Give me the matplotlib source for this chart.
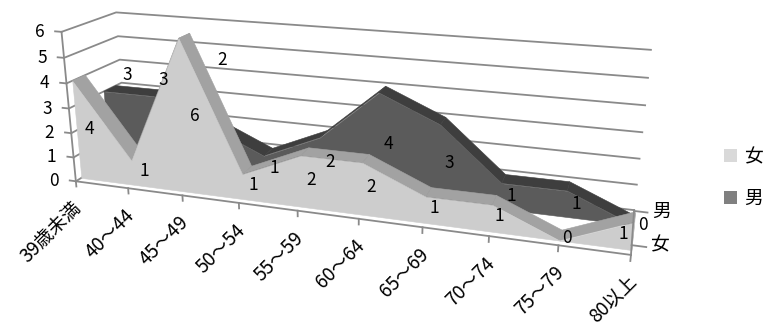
import numpy as np
import matplotlib
matplotlib.use('Agg')
import matplotlib.pyplot as plt
from mpl_toolkits.mplot3d.art3d import Poly3DCollection
from mpl_toolkits.mplot3d import proj3d
from matplotlib.patches import Patch

plt.rcParams['font.family'] = ['Noto Sans CJK JP', 'DejaVu Sans']

# ---- data ----
categories = ['39歳未満', '40～44', '45～49', '50～54', '55～59',
              '60～64', '65～69', '70～74', '75～79', '80以上']
female = [4, 1, 6, 1, 2, 2, 1, 1, 0, 1]
male = [3, 3, 2, 1, 2, 4, 3, 1, 1, 0]
series_names = ['女', '男']
value_ticks = [0, 1, 2, 3, 4, 5, 6]

# ---- layout / style ----
FS = 12.5
FS_CAT = 13.5
slab_f = (0.10, 0.33)
slab_m = (0.64, 0.88)
depth_label_y = [0.2, 0.98]
col_f = dict(face='#cdcdcd', band='#a2a2a2', end='#b4b4b4')
col_m = dict(face='#5b5b5b', band='#3e3e3e', end='#4a4a4a')
grid_col = '#8a8a8a'
# (pixel x-offset, height) for male labels that sit above the front series
male_label_override = {0: (25, 3.7), 1: (10, 3.7), 2: (17, 4.7)}
female_label_dx = {9: -10}

fig = plt.figure(figsize=(7.66, 3.29), dpi=100)
ax = fig.add_axes([-0.03, 0.235, 0.95, 0.78], projection='3d', computed_zorder=False)
ax.set_proj_type('persp', focal_length=0.67)
ax.view_init(elev=18, azim=-72)
ax.set_box_aspect((4.37, 0.8, 1.25), zoom=2.27)
ax.set_axis_off()
n = len(categories)
ax.set_xlim(0, n - 1)
ax.set_ylim(0, 1)
ax.set_zlim(0, max(value_ticks))

def line3(xs, ys, zs, z):
    ln, = ax.plot(xs, ys, zs, color=grid_col, lw=1.3, zorder=z)
    ln.set_clip_on(False)

for v in value_ticks:
    line3([0, 0, n - 1], [0, 1, 1], [v, v, v], 1)

def add_poly(polys, color, z):
    pc = Poly3DCollection(polys, facecolor=color, edgecolor=color, lw=0.4)
    pc.set_zorder(z)
    pc.set_clip_on(False)
    ax.add_collection3d(pc)

def add_series(vals, y0, y1, cols, z):
    xs = np.arange(len(vals))
    bands = []
    for i in range(len(vals) - 1):
        bands.append([(xs[i], y0, vals[i]), (xs[i + 1], y0, vals[i + 1]),
                      (xs[i + 1], y1, vals[i + 1]), (xs[i], y1, vals[i])])
    add_poly(bands, cols['band'], z)
    last = len(vals) - 1
    add_poly([[(xs[last], y0, 0), (xs[last], y0, vals[last]),
               (xs[last], y1, vals[last]), (xs[last], y1, 0)]], cols['end'], z + 0.1)
    front = [(xs[0], y0, 0)] + [(x, y0, v) for x, v in zip(xs, vals)] + [(xs[last], y0, 0)]
    add_poly([front], cols['face'], z + 0.2)

add_series(male, slab_m[0], slab_m[1], col_m, 3)
add_series(female, slab_f[0], slab_f[1], col_f, 5)

line3([0, 0], [0, 0], [0, max(value_ticks)], 8)
line3([0, n - 1], [0, 0], [0, 0], 8)
line3([n - 1, n - 1], [0, 1], [0, 0], 8)
for v in value_ticks:
    line3([0, -0.12], [0, 0], [v, v], 8)
for i in range(n):
    line3([i, i], [0, 0], [0, -0.22], 8)
for yc in depth_label_y:
    line3([n - 1, n - 1 + 0.2], [yc, yc], [0, 0], 8)

# texts placed at projected 3D positions
fig.canvas.draw()
M = ax.get_proj()

def label(x, y, z, s, dx=0, dy=0, fs=FS, **kw):
    px, py, _ = proj3d.proj_transform(x, y, z, M)
    t = ax.annotate(s, xy=(px, py), xycoords='data', xytext=(dx, dy),
                    textcoords='offset pixels', fontsize=fs, annotation_clip=False, **kw)
    t.set_zorder(12)

for v in value_ticks:
    label(0, 0, v, str(v), dx=-17, ha='right', va='center')
for i, c in enumerate(categories):
    label(i, 0, 0, c, dx=3, dy=-24, rotation=45, rotation_mode='anchor',
          ha='right', va='center', fs=FS_CAT)
for name, yc in zip(series_names, depth_label_y):
    label(n - 1, yc, 0, name, dx=18, ha='left', va='center', fs=FS + 1)

for i, v in enumerate(female):
    label(i, sum(slab_f) / 2, v / 2 - 0.1, str(v), dx=female_label_dx.get(i, 6),
          ha='center', va='center')
for i, v in enumerate(male):
    ddx, zz = male_label_override.get(i, (10, v / 2))
    label(i, slab_m[0], zz, str(v), dx=ddx, ha='center', va='center')

handles = [Patch(facecolor='#d9d9d9', label='女'), Patch(facecolor='#808080', label='男')]
fig.legend(handles=handles, loc='center left', bbox_to_anchor=(0.935, 0.46),
           frameon=False, fontsize=FS + 1, handlelength=0.7, handleheight=0.7,
           handletextpad=0.4, labelspacing=1.1, borderaxespad=0)

fig.savefig('out.png', dpi=100)
